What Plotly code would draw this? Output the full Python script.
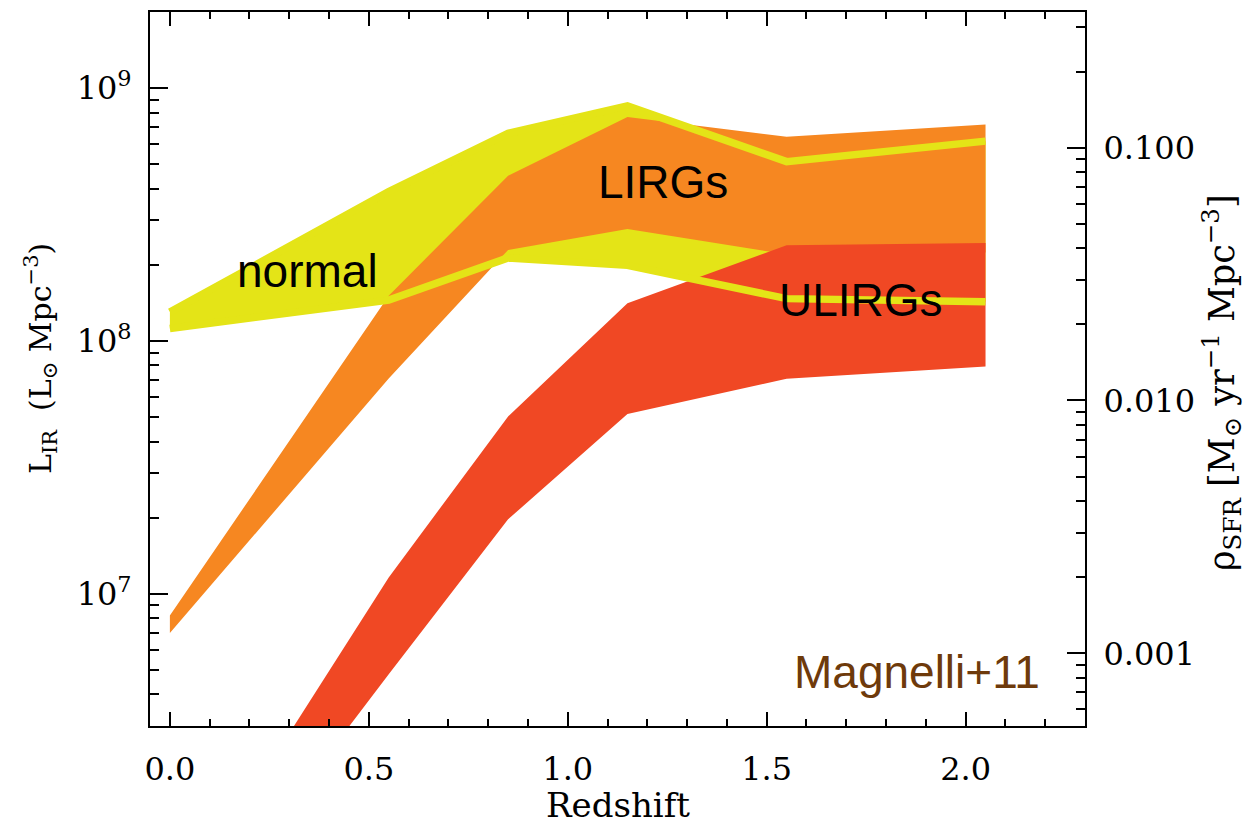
import math
import plotly.graph_objects as go

# ---------------- data ----------------
redshift = [0.0, 0.55, 0.85, 1.15, 1.55, 2.05]

normal_hi = [1.30e8, 3.90e8, 6.62e8, 8.50e8, 5.12e8, 6.17e8]
normal_lo = [1.12e8, 1.45e8, 2.13e8, 1.99e8, 1.47e8, 1.43e8]

lirg_hi = [8.2e6, 1.51e8, 4.50e8, 7.68e8, 6.42e8, 7.18e8]
lirg_lo = [7.0e6, 7.1e7, 2.29e8, 2.77e8, 2.20e8, 2.24e8]

ulirg_hi = [5.1e5, 1.16e7, 5.03e7, 1.41e8, 2.39e8, 2.44e8]
ulirg_lo = [3.5e5, 4.8e6, 1.97e7, 5.14e7, 7.08e7, 7.92e7]

sfr_per_lir = 1.72e-10  # Kennicutt conversion for right-hand axis

left_tickvals = [1e7, 1e8, 1e9]
left_ticktext = ["10<sup>7</sup>", "10<sup>8</sup>", "10<sup>9</sup>"]
right_tickvals = [0.001, 0.01, 0.1]
right_ticktext = ["0.001", "0.010", "0.100"]

YELLOW = "#E4E417"
ORANGE = "#F68721"
RED = "#F04824"
BROWN = "#6E3A0B"

# ---------------- figure ----------------
W, H = 1248, 828
L, R, T, B = 150, 1085, 10, 726
ylog_range = [6.477, 9.301]
xr = [-0.05, 2.30]


def px(X):
    return (X - L) / (R - L)


def py(Y):
    return (B - Y) / (B - T)


def band(lo, hi, color, name):
    return go.Scatter(
        x=redshift + redshift[::-1],
        y=hi + lo[::-1],
        fill="toself",
        fillcolor=color,
        mode="none",
        line=dict(width=0),
        hoverinfo="skip",
        showlegend=False,
        name=name,
    )


fig = go.Figure()
fig.add_trace(band(normal_lo, normal_hi, YELLOW, "normal"))
fig.add_trace(band(lirg_lo, lirg_hi, ORANGE, "LIRGs"))
fig.add_trace(band(ulirg_lo, ulirg_hi, RED, "ULIRGs"))
for edge in (normal_hi, normal_lo):
    fig.add_trace(go.Scatter(x=redshift, y=edge, mode="lines",
                             line=dict(color=YELLOW, width=7.5),
                             hoverinfo="skip", showlegend=False))

# invisible trace carrying the SFR-density axis
fig.add_trace(go.Scatter(x=[redshift[0]], y=[normal_hi[0] * sfr_per_lir],
                         yaxis="y2", mode="markers", marker=dict(opacity=0),
                         hoverinfo="skip", showlegend=False))

minor_left = [k * 10 ** n for n in range(6, 10) for k in range(2, 10)
              if ylog_range[0] <= math.log10(k * 10 ** n) <= ylog_range[1]]
r2 = [ylog_range[0] + math.log10(sfr_per_lir), ylog_range[1] + math.log10(sfr_per_lir)]
minor_right = [k * 10.0 ** n for n in range(-4, 0) for k in range(2, 10)
               if r2[0] <= math.log10(k * 10.0 ** n) <= r2[1]]

serif = "DejaVu Serif"
sans = "Liberation Sans"
tickfont = dict(family=serif, size=32, color="black")

fig.update_layout(
    width=W, height=H, autosize=False,
    margin=dict(l=L, r=W - R, t=T, b=H - B, pad=0),
    paper_bgcolor="white", plot_bgcolor="white",
    showlegend=False,
    xaxis=dict(
        range=xr, showgrid=False, zeroline=False,
        showline=True, linecolor="black", linewidth=2, mirror="ticks",
        ticks="inside", ticklen=14, tickwidth=2, tickcolor="black",
        tick0=0, dtick=0.5, tickformat=".1f", tickfont=tickfont,
        ticklabelstandoff=14,
        minor=dict(ticks="inside", ticklen=7, tickwidth=2, tickcolor="black",
                   tick0=0, dtick=0.1),
    ),
    yaxis=dict(
        type="log", range=ylog_range, showgrid=False, zeroline=False,
        showline=True, linecolor="black", linewidth=2,
        ticks="inside", ticklen=18, tickwidth=2, tickcolor="black",
        tickmode="array", tickvals=left_tickvals, ticktext=left_ticktext,
        tickfont=tickfont, ticklabelstandoff=10,
        minor=dict(ticks="inside", ticklen=9, tickwidth=2, tickcolor="black",
                   tickmode="array", tickvals=minor_left),
    ),
    yaxis2=dict(
        type="log", range=r2, overlaying="y", side="right",
        showgrid=False, zeroline=False,
        showline=True, linecolor="black", linewidth=2,
        ticks="inside", ticklen=18, tickwidth=2, tickcolor="black",
        tickmode="array", tickvals=right_tickvals, ticktext=right_ticktext,
        tickfont=tickfont, ticklabelstandoff=10,
        minor=dict(ticks="inside", ticklen=9, tickwidth=2, tickcolor="black",
                   tickmode="array", tickvals=minor_right),
    ),
)

ann = []
labfont = dict(family=sans, size=46, color="black")
ann.append(dict(text="normal", x=px(307), y=py(270), font=labfont))
ann.append(dict(text="LIRGs", x=px(662.5), y=py(180), font=labfont))
ann.append(dict(text="ULIRGs", x=px(861), y=py(299), font=labfont))
ann.append(dict(text="Magnelli+11", x=px(1042), y=py(672), xanchor="right",
                font=dict(family=sans, size=46, color=BROWN)))
ann.append(dict(text="Redshift", x=px(618), y=py(805),
                font=dict(family=serif, size=34, color="black")))
ann.append(dict(text="L<sub>IR</sub>  (L<sub>⊙</sub> Mpc<sup>−3</sup>)",
                x=px(40), y=py(358), textangle=-90,
                font=dict(family=serif, size=30, color="black")))
ann.append(dict(text="ρ<sub>SFR</sub> [M<sub>⊙</sub> yr<sup>−1</sup> Mpc<sup>−3</sup>]",
                x=px(1222), y=py(382), textangle=-90,
                font=dict(family=serif, size=35, color="black")))
for a in ann:
    a.setdefault("xanchor", "center")
    a.setdefault("yanchor", "middle")
    a.update(xref="paper", yref="paper", showarrow=False)
fig.update_layout(annotations=ann)

fig.write_html("out.html")
